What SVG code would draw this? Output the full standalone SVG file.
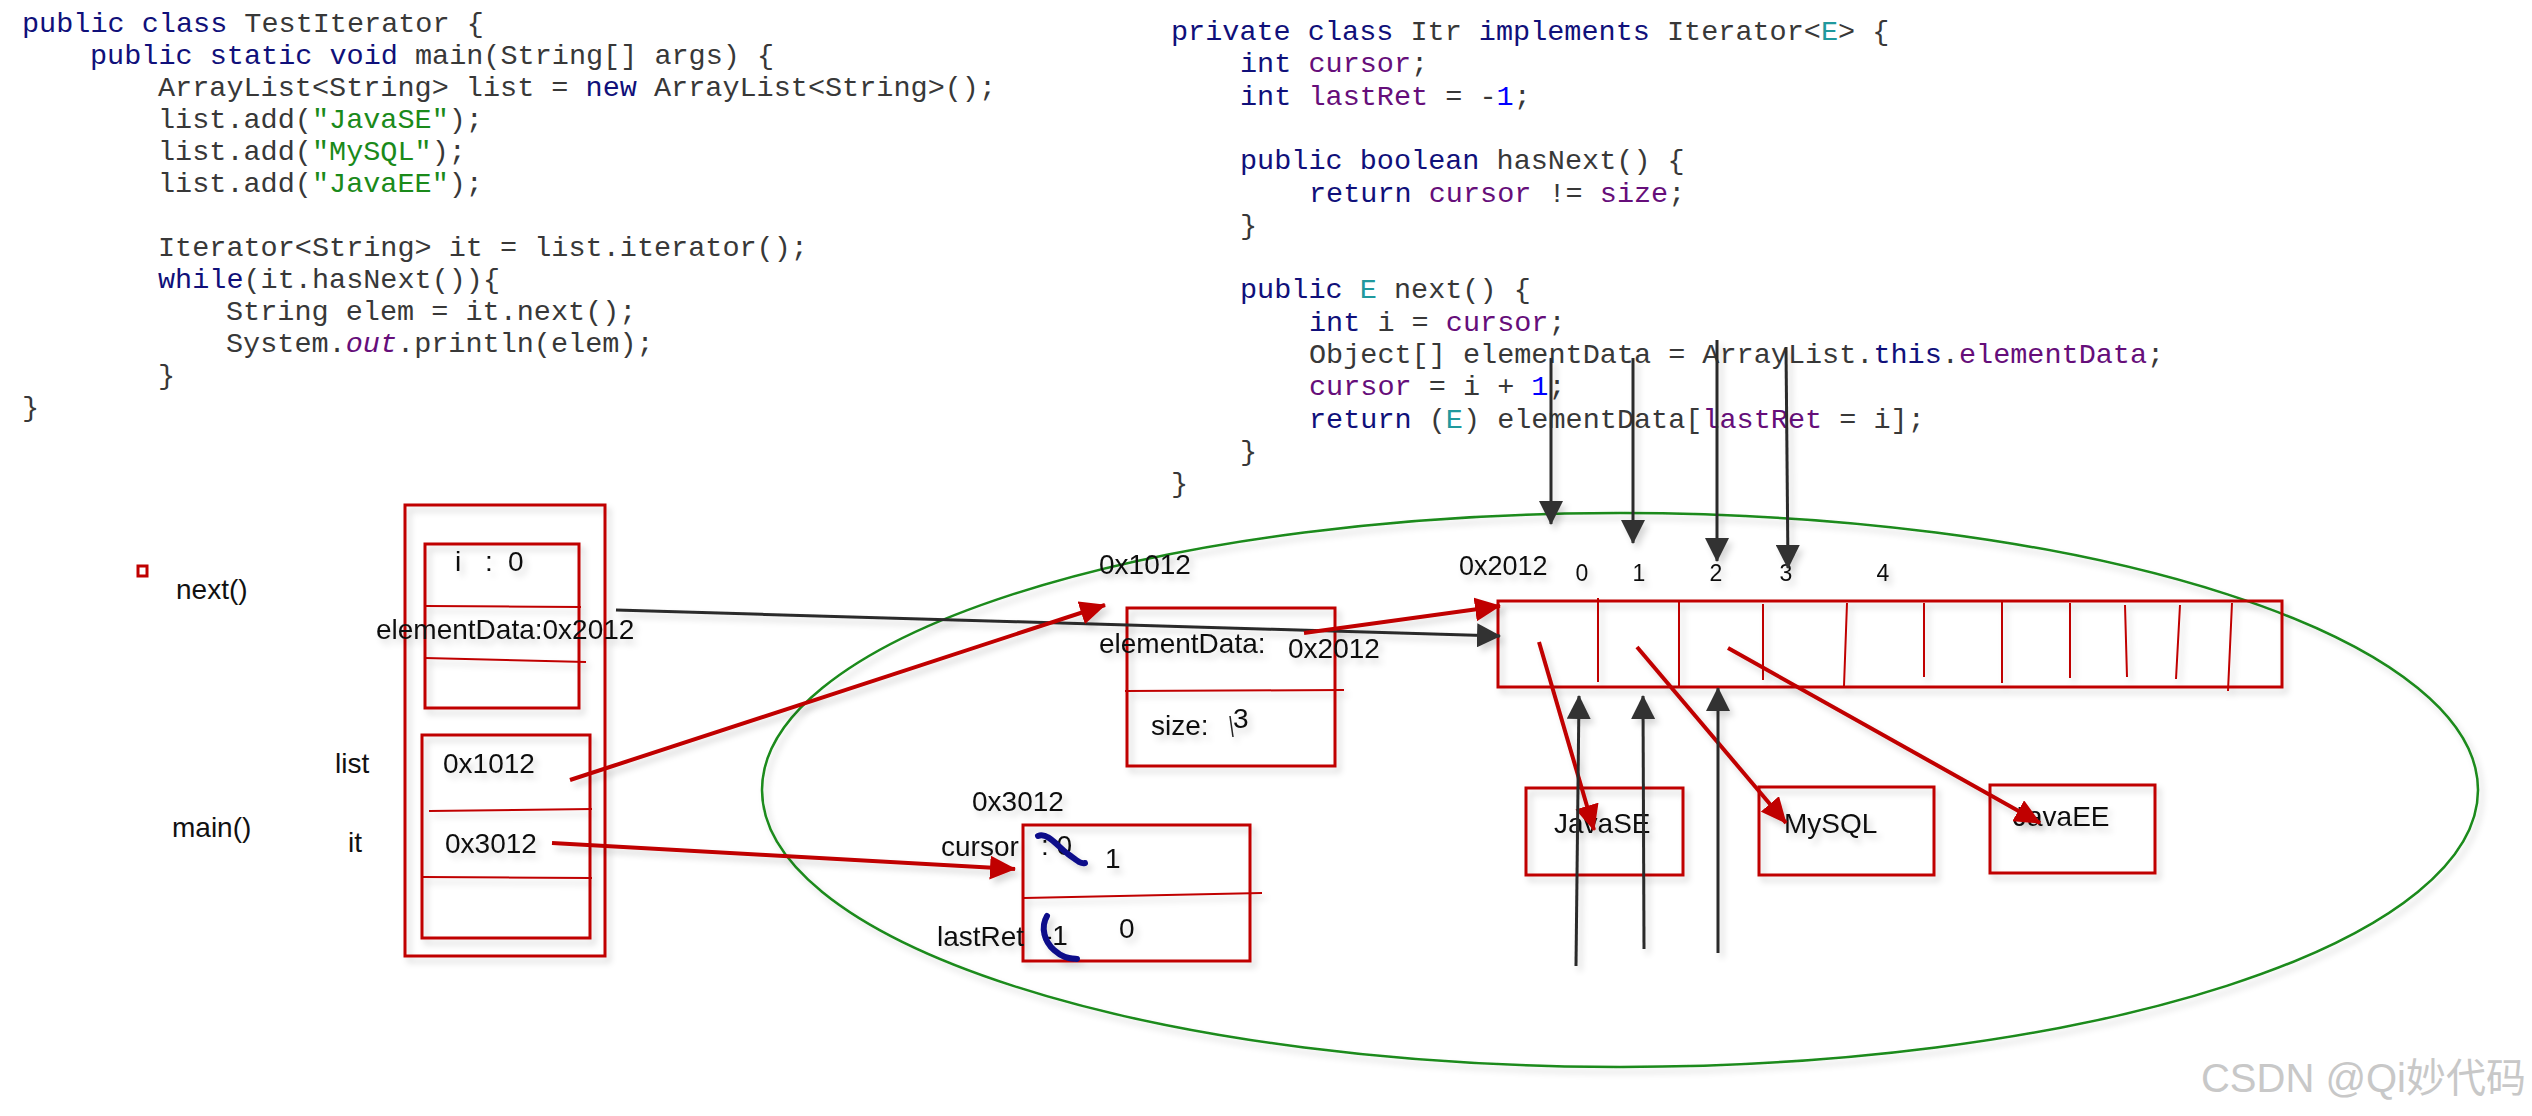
<svg xmlns="http://www.w3.org/2000/svg" width="2532" height="1116" viewBox="0 0 2532 1116">
<style>
.code{font-family:"Liberation Mono","Courier New",monospace;font-size:28.5px;fill:#383838;white-space:pre}
.k{fill:#10107a}
.s{fill:#1a8a1a}
.f{fill:#660e7a}
.fi{fill:#660e7a;font-style:italic}
.t{fill:#20999d}
.n{fill:#0000ff}
.lb{font-family:"Liberation Sans",Arial,sans-serif;font-size:28px;fill:#111;white-space:pre}
.idx{font-family:"Liberation Sans",Arial,sans-serif;font-size:23px;fill:#111;text-anchor:middle}
.box{fill:none;stroke:#c00000;stroke-width:3}
.div{fill:none;stroke:#c00000;stroke-width:2}
.red{fill:none;stroke:#c00000;stroke-width:4;marker-end:url(#ar)}
.blk{fill:none;stroke:#2a2a2a;stroke-width:3;marker-end:url(#ab)}
.scr{fill:none;stroke:#0a0a8a;stroke-width:6;stroke-linecap:round}
.wm{font-family:"Liberation Sans","Noto Sans CJK SC",sans-serif;font-size:40px;fill:#c8c8c8}
</style>
<defs>
<filter id="sh" x="-10%" y="-10%" width="130%" height="130%">
<feDropShadow dx="4" dy="5" stdDeviation="3" flood-color="#000" flood-opacity="0.16"/>
</filter>
<marker id="ab" viewBox="0 0 24 24" refX="23" refY="12" markerWidth="24" markerHeight="24" markerUnits="userSpaceOnUse" orient="auto">
<path d="M0,0 L24,12 L0,24 z" fill="#333"/>
</marker>
<marker id="ar" viewBox="0 0 26 24" refX="25" refY="12" markerWidth="26" markerHeight="24" markerUnits="userSpaceOnUse" orient="auto">
<path d="M0,0 L26,12 L0,24 z" fill="#c00000"/>
</marker>
</defs>
<rect width="2532" height="1116" fill="#fff"/>

<g id="code-main">
<text class="code" x="22" y="32"><tspan class="k">public class</tspan> TestIterator {</text>
<text class="code" x="90" y="64"><tspan class="k">public static void</tspan> main(String[] args) {</text>
<text class="code" x="158" y="96">ArrayList&lt;String&gt; list = <tspan class="k">new</tspan> ArrayList&lt;String&gt;();</text>
<text class="code" x="158" y="128">list.add(<tspan class="s">"JavaSE"</tspan>);</text>
<text class="code" x="158" y="160">list.add(<tspan class="s">"MySQL"</tspan>);</text>
<text class="code" x="158" y="192">list.add(<tspan class="s">"JavaEE"</tspan>);</text>
<text class="code" x="158" y="256">Iterator&lt;String&gt; it = list.iterator();</text>
<text class="code" x="158" y="288"><tspan class="k">while</tspan>(it.hasNext()){</text>
<text class="code" x="226" y="320">String elem = it.next();</text>
<text class="code" x="226" y="352">System.<tspan class="fi">out</tspan>.println(elem);</text>
<text class="code" x="158" y="384">}</text>
<text class="code" x="22" y="416">}</text>
</g>

<g id="code-itr">
<text class="code" x="1171" y="40"><tspan class="k">private class</tspan> Itr <tspan class="k">implements</tspan> Iterator&lt;<tspan class="t">E</tspan>&gt; {</text>
<text class="code" x="1240" y="72"><tspan class="k">int</tspan> <tspan class="f">cursor</tspan>;</text>
<text class="code" x="1240" y="105"><tspan class="k">int</tspan> <tspan class="f">lastRet</tspan> = -<tspan class="n">1</tspan>;</text>
<text class="code" x="1240" y="169"><tspan class="k">public boolean</tspan> hasNext() {</text>
<text class="code" x="1309" y="202"><tspan class="k">return</tspan> <tspan class="f">cursor</tspan> != <tspan class="f">size</tspan>;</text>
<text class="code" x="1240" y="234">}</text>
<text class="code" x="1240" y="298"><tspan class="k">public</tspan> <tspan class="t">E</tspan> next() {</text>
<text class="code" x="1309" y="331"><tspan class="k">int</tspan> i = <tspan class="f">cursor</tspan>;</text>
<text class="code" x="1309" y="363">Object[] elementData = ArrayList.<tspan class="k">this</tspan>.<tspan class="f">elementData</tspan>;</text>
<text class="code" x="1309" y="395"><tspan class="f">cursor</tspan> = i + <tspan class="n">1</tspan>;</text>
<text class="code" x="1309" y="428"><tspan class="k">return</tspan> (<tspan class="t">E</tspan>) elementData[<tspan class="f">lastRet</tspan> = i];</text>
<text class="code" x="1240" y="460">}</text>
<text class="code" x="1171" y="492">}</text>
</g>

<g id="heap">
<ellipse cx="1620" cy="790" rx="858" ry="277" fill="none" stroke="#1a8a1a" stroke-width="2.5" filter="url(#sh)"/>
</g>

<g id="stack-labels">
<rect x="138" y="566" width="9" height="10" fill="none" stroke="#c00000" stroke-width="3"/>
<text class="lb" x="176" y="599">next()</text>
<text class="lb" x="172" y="837">main()</text>
<text class="lb" x="335" y="773">list</text>
<text class="lb" x="348" y="852">it</text>
</g>

<g id="stack" filter="url(#sh)">
<rect class="box" x="405" y="505" width="200" height="451"/>
</g>

<g id="frame-next" filter="url(#sh)">
<rect class="box" x="425" y="544" width="154" height="164"/>
<path class="div" d="M425,606 L581,607 M425,658 L586,662"/>
<text class="lb"><tspan x="455" y="571">i</tspan><tspan x="485" y="571">:</tspan><tspan x="508" y="571">0</tspan></text>
<text class="lb" x="376" y="639">elementData:0x2012</text>
</g>

<g id="frame-main" filter="url(#sh)">
<rect class="box" x="422" y="735" width="168" height="203"/>
<path class="div" d="M429,811 L592,809 M422,877 L592,878"/>
<text class="lb" x="443" y="773">0x1012</text>
<text class="lb" x="445" y="853">0x3012</text>
</g>

<g id="obj-list" filter="url(#sh)">
<text class="lb" x="1099" y="574">0x1012</text>
<rect class="box" x="1127" y="608" width="208" height="158"/>
<path class="div" d="M1125,691 L1344,690"/>
<text class="lb" x="1099" y="653">elementData:</text>
<text class="lb" x="1288" y="658">0x2012</text>
<text class="lb" x="1151" y="735">size:</text>
<text class="lb" x="1233" y="728">3</text>
<path d="M1230,716 L1233,737" stroke="#222" stroke-width="1.5" fill="none"/>
</g>

<g id="obj-itr" filter="url(#sh)">
<text class="lb" x="972" y="811">0x3012</text>
<rect class="box" x="1023" y="825" width="227" height="136"/>
<path class="div" d="M1024,898 L1262,893"/>
<text class="lb" x="941" y="856">cursor</text>
<text class="lb" x="1041" y="855">: 0</text>
<text class="lb" x="1105" y="868">1</text>
<text class="lb" x="937" y="946">lastRet</text>
<text class="lb" x="1043" y="945">-1</text>
<text class="lb" x="1119" y="938">0</text>
<path class="scr" d="M1038,836 C1048,832 1058,847 1068,854 S1080,864 1085,863"/>
<path class="scr" d="M1047,916 C1040,928 1045,942 1054,950 S1068,958 1077,959"/>
</g>

<g id="array" filter="url(#sh)">
<text class="lb" x="1459" y="575" style="font-size:27px">0x2012</text>
<text class="idx" x="1582" y="581">0</text>
<text class="idx" x="1639" y="581">1</text>
<text class="idx" x="1716" y="581">2</text>
<text class="idx" x="1786" y="581">3</text>
<text class="idx" x="1883" y="581">4</text>
<rect class="box" x="1498" y="601" width="784" height="86"/>
<path class="div" d="M1598,598 L1598,682 M1679,602 L1679,687 M1763,604 L1763,680 M1847,603 L1844,686 M1924,603 L1924,677 M2002,602 L2002,683 M2070,603 L2070,678 M2125,605 L2127,677 M2180,605 L2176,679 M2232,603 L2228,691"/>
</g>

<g id="str-javase" filter="url(#sh)">
<rect class="box" x="1526" y="788" width="157" height="87"/>
<text class="lb" x="1554" y="833">JavaSE</text>
</g>
<g id="str-mysql" filter="url(#sh)">
<rect class="box" x="1759" y="787" width="175" height="88"/>
<text class="lb" x="1784" y="833">MySQL</text>
</g>
<g id="str-javaee" filter="url(#sh)">
<rect class="box" x="1990" y="785" width="165" height="88"/>
<text class="lb" x="2013" y="826">JavaEE</text>
</g>

<g id="connectors" filter="url(#sh)">
<path class="blk" d="M616,610 L1500,636"/>
<path class="red" d="M570,780 L1105,605"/>
<path class="red" d="M552,843 L1015,869"/>
<path class="red" d="M1304,633 L1500,606"/>
<path class="red" d="M1539,642 L1594,830"/>
<path class="red" d="M1637,647 L1786,823"/>
<path class="red" d="M1728,648 L2040,823"/>
<path class="blk" d="M1551,358 L1551,524"/>
<path class="blk" d="M1633,358 L1633,543"/>
<path class="blk" d="M1717,340 L1717,561"/>
<path class="blk" d="M1786,347 L1788,568"/>
<path class="blk" d="M1576,966 L1579,696"/>
<path class="blk" d="M1644,949 L1643,696"/>
<path class="blk" d="M1718,953 L1718,688"/>
</g>

<text class="wm" x="2526" y="1092" text-anchor="end">CSDN @Qi妙代码</text>
</svg>
